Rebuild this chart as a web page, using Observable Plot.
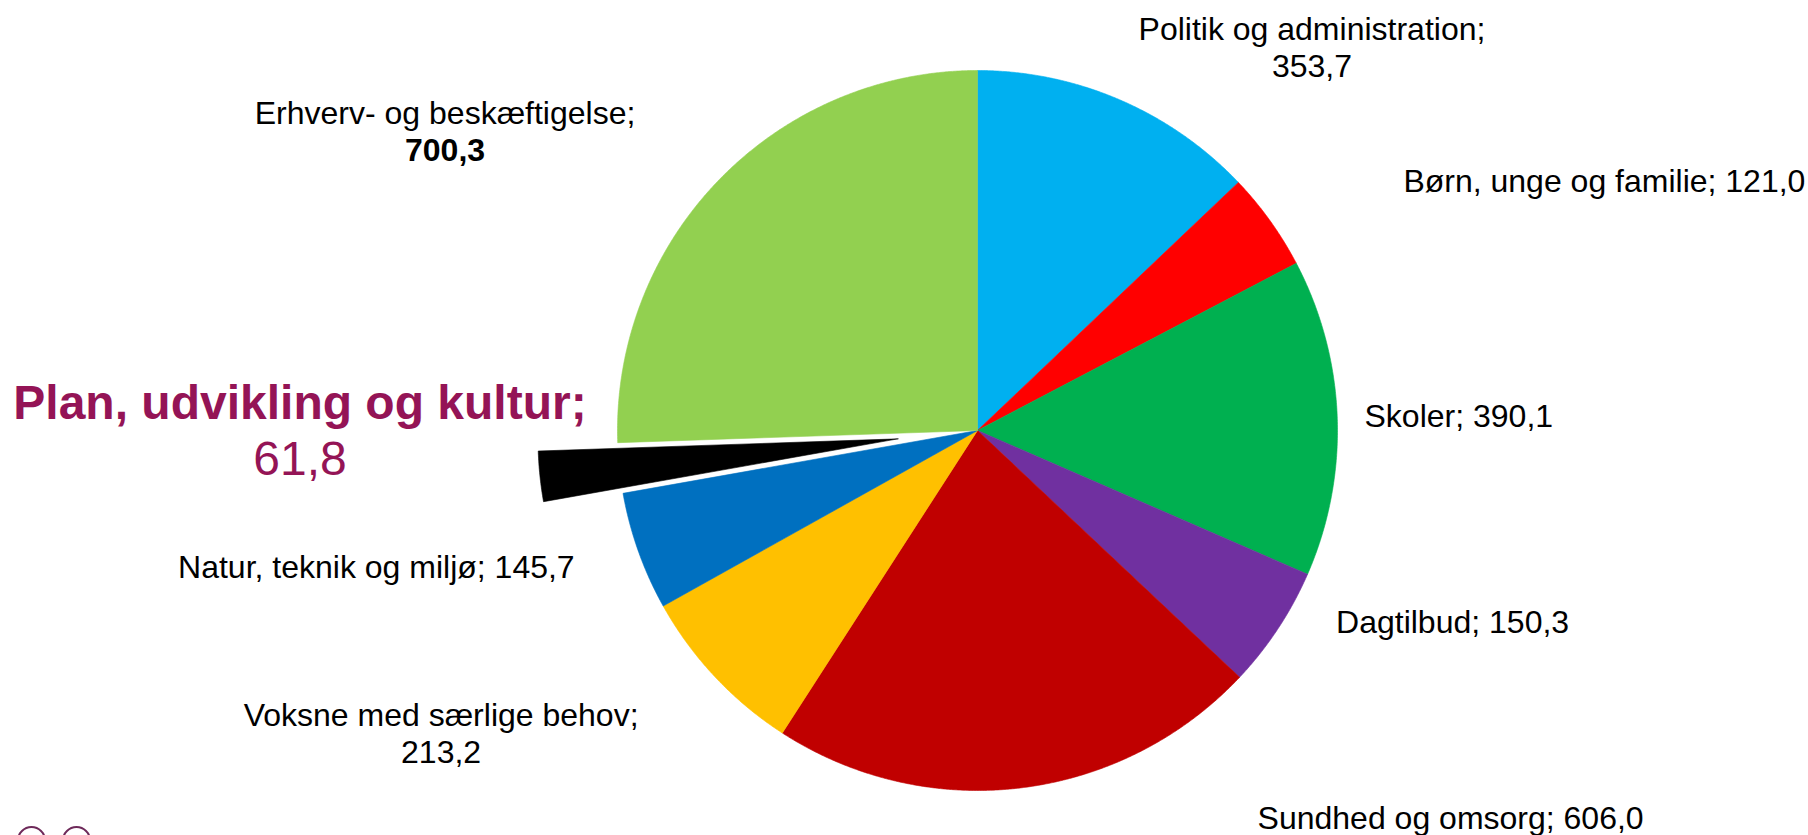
<!DOCTYPE html>
<html>
<head>
<meta charset="utf-8">
<script src="https://cdn.jsdelivr.net/npm/d3@7"></script>
<script src="https://cdn.jsdelivr.net/npm/@observablehq/plot@0.6"></script>
<style>
  html, body { margin: 0; padding: 0; background: #fff; overflow: hidden; }
  #chart { position: relative; width: 1808px; height: 835px; }
  .logo { position: absolute; width: 25px; height: 25px; border: 2.5px solid #6e2a5a; border-radius: 50%; }
</style>
</head>
<body>
<div id="chart"></div>
<script>
// ---- data ----
const categories = [
  "Politik og administration",
  "Børn, unge og familie",
  "Skoler",
  "Dagtilbud",
  "Sundhed og omsorg",
  "Voksne med særlige behov",
  "Natur, teknik og miljø",
  "Plan, udvikling og kultur",
  "Erhverv- og beskæftigelse"
];
const values = [353.7, 121.0, 390.1, 150.3, 606.0, 213.2, 145.7, 61.8, 700.3];
const colors = ["#00b0f0", "#ff0000", "#00b050", "#7030a0", "#c00000", "#ffc000", "#0070c0", "#000000", "#92d050"];
const explodedCategory = "Plan, udvikling og kultur";
const boldValueCategory = "Erhverv- og beskæftigelse";

// ---- label layout (in pie radii from the centre) ----
const labelX = [0.929, 1.183, 1.075, 0.996, 0.778, -1.490, -1.119, -1.882, -1.479];
const labelY = [1.063, 0.692, 0.039, -0.535, -1.078, -0.843, -0.381, -0.003, 0.828];
const labelAnchor = ["middle", "start", "start", "start", "start", "middle", "end", "middle", "middle"];
const labelStacked = [true, false, false, false, false, true, false, true, true];

// ---- geometry via d3.pie ----
const fmt = v => v.toFixed(1).replace(".", ",");
const arcs = d3.pie().sort(null).value(d => d)(values);
const explodeDist = 0.222;
const slicePts = [];
arcs.forEach((a, i) => {
  const cat = categories[i];
  const mid = (a.startAngle + a.endAngle) / 2;
  const off = cat === explodedCategory ? explodeDist : 0;
  const cx = off * Math.sin(mid), cy = off * Math.cos(mid);
  slicePts.push({cat, x: cx, y: cy});
  const n = Math.max(2, Math.ceil((a.endAngle - a.startAngle) / (Math.PI / 720)));
  for (let k = 0; k <= n; k++) {
    const t = a.startAngle + (a.endAngle - a.startAngle) * k / n;
    slicePts.push({cat, x: cx + Math.sin(t), y: cy + Math.cos(t)});
  }
  slicePts.push({cat, x: cx, y: cy});
});

const rows = categories.map((c, i) => ({
  cat: c, value: values[i], x: labelX[i], y: labelY[i],
  anchor: labelAnchor[i], stacked: labelStacked[i]
}));

const FONT = "'Liberation Sans', Arial, Helvetica, sans-serif";
const base = {x: "x", y: "y", fontFamily: FONT, fontSize: 32, fill: "#000", lineAnchor: "middle"};
const LH = 18.5;

const single = rows.filter(d => !d.stacked);
const stackedNormal = rows.filter(d => d.stacked && d.cat !== explodedCategory);
const highlight = rows.filter(d => d.cat === explodedCategory);

const marks = [
  Plot.line(slicePts, {x: "x", y: "y", z: "cat", fill: "cat", stroke: "cat", strokeWidth: 0.6, curve: "linear"}),
  Plot.text(single.filter(d => d.anchor === "start"), {...base, textAnchor: "start", text: d => `${d.cat}; ${fmt(d.value)}`}),
  Plot.text(single.filter(d => d.anchor === "end"), {...base, textAnchor: "end", text: d => `${d.cat}; ${fmt(d.value)}`}),
  Plot.text(stackedNormal, {...base, textAnchor: "middle", dy: -LH, text: d => `${d.cat};`}),
  Plot.text(stackedNormal.filter(d => d.cat !== boldValueCategory), {...base, textAnchor: "middle", dy: LH, text: d => fmt(d.value)}),
  Plot.text(stackedNormal.filter(d => d.cat === boldValueCategory), {...base, textAnchor: "middle", dy: LH, fontWeight: "bold", text: d => fmt(d.value)}),
  Plot.text(highlight, {...base, fontSize: 48, fill: "#941456", fontWeight: "bold", textAnchor: "middle", dy: -27.6, text: d => `${d.cat};`}),
  Plot.text(highlight, {...base, fontSize: 48, fill: "#941456", textAnchor: "middle", dy: 27.6, text: d => fmt(d.value)})
];

const chart = Plot.plot({
  width: 1808,
  height: 835,
  margin: 0,
  x: {domain: [-1, 1], range: [617, 1337], axis: null},
  y: {domain: [-1, 1], range: [790, 70], axis: null},
  color: {domain: categories, range: colors},
  style: {background: "#fff", overflow: "visible"},
  marks
});
const host = document.getElementById("chart");
host.appendChild(chart);
// decorative logo circles at the bottom-left corner
[[17, 826], [62, 826]].forEach(([l, t]) => {
  const d = document.createElement("div");
  d.className = "logo";
  d.style.left = l + "px";
  d.style.top = t + "px";
  host.appendChild(d);
});
</script>
</body>
</html>
